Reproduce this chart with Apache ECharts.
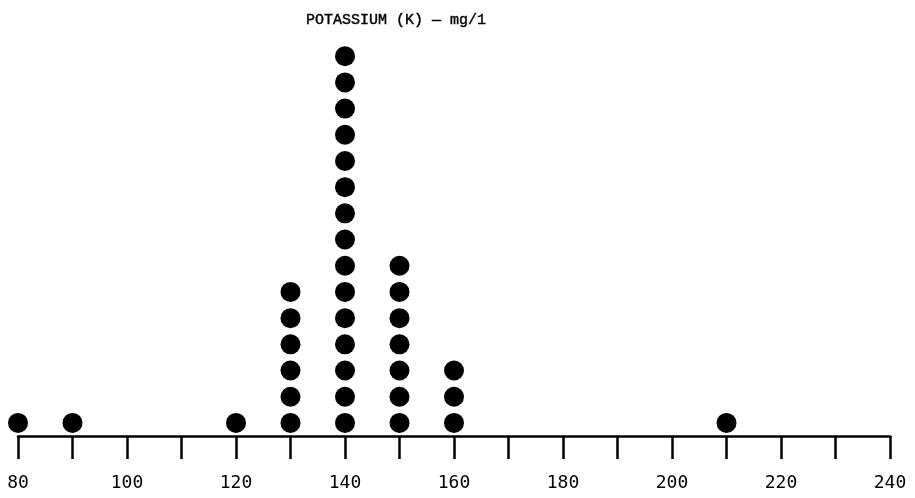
<!DOCTYPE html>
<html>
<head>
<meta charset="utf-8">
<script src="https://cdn.jsdelivr.net/npm/echarts@6/dist/echarts.min.js"></script>
<style>
  html, body { margin: 0; padding: 0; background: #fff; }
  #main { width: 915px; height: 498px; }
</style>
</head>
<body>
<div id="main"></div>
<script>
// potassium readings (mg/l) and how many samples at each
const kValues = [80, 90, 120, 130, 140, 150, 160, 210];
const kCounts = [1, 1, 1, 6, 15, 7, 3, 1];

// one dot per sample, stacked upward
const dots = [];
kValues.forEach((v, i) => {
  for (let n = 1; n <= kCounts[i]; n++) {
    dots.push([v, n]);
  }
});

const myChart = echarts.init(document.getElementById("main"));
const option = {
  animation: false,
  title: {
    text: "POTASSIUM (K) — mg/1",
    left: 391,
    top: 8,
    textAlign: "center",
    textStyle: {
      fontFamily: "Liberation Mono",
      fontWeight: "normal",
      fontSize: 15,
      color: "#000",
      textBorderColor: "#000",
      textBorderWidth: 0.4,
    },
  },
  grid: {
    left: 18,
    right: 25,
    top: 30,
    bottom: 62,
  },
  xAxis: {
    type: "value",
    min: 80,
    max: 240,
    interval: 10,
    axisLine: { show: true, lineStyle: { color: "#000", width: 2.5 } },
    axisTick: { show: true, length: 23, lineStyle: { color: "#000", width: 2.5 } },
    splitLine: { show: false },
    axisLabel: {
      margin: 38,
      color: "#000",
      fontFamily: "DejaVu Sans Mono",
      fontSize: 18,
      formatter: (v) => (v % 20 === 0 ? String(v) : ""),
    },
  },
  yAxis: {
    type: "value",
    min: 0.5,
    max: 16,
    show: false,
  },
  series: [
    {
      type: "scatter",
      symbol: "circle",
      symbolSize: 20,
      itemStyle: { color: "#000", opacity: 1 },
      data: dots,
    },
  ],
};
myChart.setOption(option);
</script>
</body>
</html>
